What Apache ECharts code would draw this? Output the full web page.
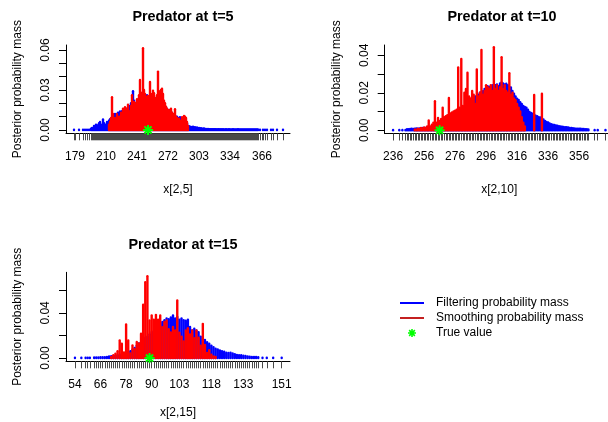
<!DOCTYPE html>
<html>
<head>
<meta charset="utf-8">
<script src="https://cdn.jsdelivr.net/npm/echarts@6/dist/echarts.min.js"></script>
<style>
  html, body { margin: 0; padding: 0; background: #ffffff; }
  #chart { width: 608px; height: 422px; }
</style>
</head>
<body>
<div id="chart"></div>
<script>
// Posterior probability mass of the predator count x[2,t] at t = 5, 10, 15:
// filtering mass (blue sticks), smoothing mass (red sticks) and the true value.

function run(a, b) { const out = []; for (let v = a; v <= b; v++) out.push(v); return out; }

// ---- t = 5 ----
const p1FiltX = [178, 183, 187, 189, 191, 193].concat(run(195, 362), [364, 367, 369, 371, 375, 377, 381, 387]);
const p1Filt = [
  .0002, .0002, .0002, .0002, .0002, .0002,
  .001, .0015, .001, .003, .002, .004, .0035, .002, .005, .006,
  .003, .004, .0078, .005, .003, .004, .006, .0045, .007, .008,
  .006, .009, .011, .010, .012, .010, .011, .013, .009, .0138,
  .012, .014, .010, .013, .015, .012, .016, .014, .018, .015,
  .020, .017, .029, .022, .020, .018, .022, .021, .024, .019,
  .023, .025, .022, .027, .024, .021, .026, .023, .025, .022,
  .024, .020, .023, .025, .021, .019, .022, .020, .018, .021,
  .017, .019, .016, .018, .015, .017, .014, .013, .015, .012,
  .014, .011, .012, .010, .011, .009, .010, .008, .009, .0095,
  .008, .0085, .009, .007, .0085, .006, .005, .003, .0028, .0025,
  .0022, .002, .0024, .0018, .002, .0016, .0018, .0014, .0015, .0012,
  .0013, .001, .0009, .0011, .0008, .0007, .0006, .0007, .0006, .0005,
  .0006, .0005, .0005, .0006, .0005, .0005, .0004, .0005, .0005, .0004,
  .0005, .0004, .0005, .0004, .0004, .0005, .0004, .0004, .0005, .0004,
  .0004, .0004, .0005, .0004, .0004, .0004, .0004, .0005, .0004, .0004,
  .0004, .0004, .0004, .0003, .0004, .0004, .0004, .0003, .0004, .0004,
  .0003, .0004, .0003, .0004, .0003, .0003, .0004, .0003,
  .0002, .0002, .0002, .0002, .0002, .0002, .0002, .0002
];
const p1SmoothX = run(213, 292);
const p1Smooth = [
  .004, .006, .009, .0245, .012, .006, .009, .007, .012, .008,
  .010, .009, .013, .011, .016, .012, .017, .010, .016, .019,
  .014, .012, .018, .026, .016, .021, .020, .018, .023, .019,
  .026, .0375, .022, .028, .0613, .030, .027, .025, .024, .0255,
  .022, .036, .027, .025, .0295, .0275, .021, .024, .026, .0438,
  .025, .029, .030, .031, .027, .022, .020, .0175, .016, .014,
  .015, .013, .016, .013, .011, .012, .0155, .010, .009, .008,
  .0085, .006, .007, .0095, .009, .0105, .010, .009, .006, .003
];
const p1True = 252;
const p1Labels = [179, 210, 241, 272, 303, 334, 366];

// ---- t = 10 ----
const p2FiltX = [236, 240, 242, 244].concat(run(245, 362), [366, 368, 373]);
const p2Filt = [
  .0002, .0002, .0002, .0002,
  .0006, .0006, .0007, .0008, .0007, .0009, .001, .0009, .001, .0011,
  .0012, .0013, .0012, .0016, .0018, .0017, .0022, .0025, .0024, .0032,
  .0036, .0035, .0045, .005, .0056, .0055, .0064, .0068, .0066, .0075,
  .008, .0078, .009, .0095, .0105, .011, .0112, .0125, .013, .0138,
  .0145, .0152, .0165, .0168, .018, .0182, .019, .020, .0205, .0208,
  .022, .0225, .0235, .023, .0235, .024, .0225, .024, .0245, .0235,
  .025, .0255, .025, .0245, .0248, .024, .023, .0228, .021, .0195,
  .018, .0168, .0162, .015, .014, .013, .0125, .012, .011, .0098,
  .0092, .0088, .0085, .0078, .0075, .007, .0068, .0066, .0058, .005,
  .0045, .0042, .0036, .0033, .003, .0029, .0026, .0024, .0022, .0021,
  .0019, .0018, .0017, .0016, .0015, .0013, .0012, .0011, .001, .0009,
  .0009, .0008, .0008, .0007, .0007, .0006, .0006, .0005,
  .0002, .0002, .0002
];
const p2SmoothX = run(250, 321).concat([327, 332]);
const p2Smooth = [
  .0005, .0003, .0008, .0006, .0012, .001, .0015, .0012, .002, .0052,
  .002, .003, .004, .0155, .004, .0066, .005, .006, .012, .007,
  .0075, .008, .0172, .009, .0095, .010, .0105, .011, .0335, .012,
  .038, .013, .020, .022, .0307, .018, .017, .021, .019, .014,
  .0325, .018, .020, .0428, .019, .021, .024, .023, .022, .024,
  .021, .0443, .022, .024, .021, .023, .039, .022, .024, .021,
  .020, .0304, .019, .020, .017, .016, .014, .012, .010, .007,
  .004, .002,
  .0188, .0195
];
const p2True = 266;
const p2Labels = [236, 256, 276, 296, 316, 336, 356];

// ---- t = 15 ----
const p3FiltX = [54, 57, 59, 60, 61].concat(run(63, 140), [142, 144, 147, 151]);
const p3Filt = [
  .0002, .0002, .0002, .0002, .0002,
  .0005, .0006, .0006, .0007, .0008, .0008, .001, .0014, .0016, .0018,
  .002, .0025, .003, .0035, .004, .0045, .0053, .006, .0075, .009,
  .011, .013, .014, .016, .018, .019, .021, .023, .024, .026,
  .028, .030, .032, .0335, .035, .0345, .036, .0377, .035, .0365,
  .034, .035, .0335, .033, .034, .0275, .0245, .026, .0245, .023,
  .019, .0157, .016, .014, .0127, .011, .0097, .0083, .0075, .0068,
  .006, .0055, .0047, .0045, .0047, .004, .0033, .0028, .0025, .0024,
  .002, .0018, .0015, .0012, .001, .001, .0009, .0008,
  .0003, .0002, .0002, .0002
];
const p3SmoothX = run(71, 120);
const p3Smooth = [
  .001, .0024, .0038, .006, .0156, .0127, .005, .0298, .0156, .004,
  .0112, .008, .0142, .013, .0215, .0472, .0672, .0726, .0333, .0378,
  .034, .0383, .034, .0378, .0274, .032, .0333, .0255, .0227, .0275,
  .0245, .051, .0225, .019, .0147, .0245, .0265, .021, .0245, .0175,
  .0245, .018, .011, .0303, .0115, .0045, .007, .003, .0015, .001
];
const p3True = 89;
const p3Labels = [54, 66, 78, 90, 103, 118, 133, 151];

const titles = ['Predator at t=5', 'Predator at t=10', 'Predator at t=15'];
const xNames = ['x[2,5]', 'x[2,10]', 'x[2,15]'];
const yTicks = [[0, .01, .02, .03, .04, .05, .06], [0, .01, .02, .03, .04], [0, .02, .04, .06]];
const yLabels = [[0, .03, .06], [0, .02, .04], [0, .04]];

const FONT = 'Liberation Sans, Arial, sans-serif';
const BLUE = '#0000ff', RED = '#ff0000', GREEN = '#00ff00';
const LW = 2.4;

// panel layout (pixels) and axis ranges
const panels = [
  { left: 66, top: 45, width: 224, height: 88.3, xMin: 170, xMax: 394, yMin: -0.0025, yMax: 0.06375, tx: 178, ty: 5, xGap: 50 },
  { left: 384.7, top: 45, width: 229, height: 88.5, xMin: 230.6, xMax: 378.3, yMin: -0.0017, yMax: 0.0455, tx: 497, ty: 5, xGap: 50 },
  { left: 66, top: 272.3, width: 224, height: 89, xMin: 49.8, xMax: 154.9, yMin: -0.0029, yMax: 0.076, tx: 178, ty: 233, xGap: 45 }
];
const data = [
  { fx: p1FiltX, fy: p1Filt, sx: p1SmoothX, sy: p1Smooth, t: p1True, lab: p1Labels },
  { fx: p2FiltX, fy: p2Filt, sx: p2SmoothX, sy: p2Smooth, t: p2True, lab: p2Labels },
  { fx: p3FiltX, fy: p3Filt, sx: p3SmoothX, sy: p3Smooth, t: p3True, lab: p3Labels }
];

// asterisk marker built from four thin bars
const STAR = 'path://M-0.2,-1L0.2,-1L0.2,1L-0.2,1Z' +
  'M-1,-0.2L1,-0.2L1,0.2L-1,0.2Z' +
  'M-0.57,-0.85L0.85,0.57L0.57,0.85L-0.85,-0.57Z' +
  'M0.85,-0.57L-0.57,0.85L-0.85,0.57L0.57,-0.85Z';
const LINE_ICON = 'path://M0,0L24,0L24,2L0,2Z';

function stick(color) {
  return function (params, api) {
    const x = api.value(0), y = api.value(1);
    const a = api.coord([x, 0]), b = api.coord([x, y]);
    return {
      type: 'line',
      shape: { x1: a[0], y1: a[1], x2: b[0], y2: b[1] },
      style: { stroke: color, lineWidth: LW, lineCap: 'round' },
      silent: true
    };
  };
}

const grids = [], xAxes = [], yAxes = [], series = [], title = [];
panels.forEach(function (p, i) {
  const d = data[i];
  grids.push({ left: p.left, top: p.top, width: p.width, height: p.height, outerBoundsMode: 'none', containLabel: false });
  title.push({
    text: titles[i], left: p.tx, top: p.ty, textAlign: 'center',
    textStyle: { fontFamily: FONT, fontSize: 14.4, fontWeight: 'bold', color: '#000' }
  });
  const tickVals = Array.from(new Set(d.fx.concat(d.lab))).sort(function (a, b) { return a - b; });
  xAxes.push({
    gridIndex: i, type: 'value', min: p.xMin, max: p.xMax, position: 'bottom',
    axisLine: { show: true, onZero: false, lineStyle: { color: '#000', width: 1 } },
    axisTick: { show: true, customValues: tickVals, length: 7, lineStyle: { color: '#4a4a4a', width: 1 } },
    axisLabel: { show: true, customValues: d.lab, margin: 17, fontFamily: FONT, fontSize: 12, color: '#000', hideOverlap: false },
    splitLine: { show: false },
    name: xNames[i], nameLocation: 'middle', nameGap: p.xGap, nameMoveOverlap: false,
    nameTextStyle: { fontFamily: FONT, fontSize: 12, color: '#000' }
  });
  yAxes.push({
    gridIndex: i, type: 'value', min: p.yMin, max: p.yMax,
    axisLine: { show: true, onZero: false, lineStyle: { color: '#000', width: 1 } },
    axisTick: { show: true, customValues: yTicks[i], length: 7, lineStyle: { color: '#000', width: 1 } },
    axisLabel: {
      show: true, customValues: yLabels[i], rotate: 90, margin: 14,
      formatter: function (v) { return v.toFixed(2); },
      fontFamily: FONT, fontSize: 12, color: '#000', hideOverlap: false
    },
    splitLine: { show: false },
    name: 'Posterior probability mass', nameLocation: 'middle', nameRotate: 90, nameGap: 42, nameMoveOverlap: false,
    nameTextStyle: { fontFamily: FONT, fontSize: 12, color: '#000' }
  });
  series.push({
    type: 'custom', name: 'Filtering probability mass', xAxisIndex: i, yAxisIndex: i,
    data: d.fx.map(function (x, k) { return [x, d.fy[k]]; }),
    encode: { x: 0, y: 1 }, renderItem: stick(BLUE), itemStyle: { color: BLUE }, clip: false, z: 2
  });
  series.push({
    type: 'custom', name: 'Smoothing probability mass', xAxisIndex: i, yAxisIndex: i,
    data: d.sx.map(function (x, k) { return [x, d.sy[k]]; }),
    encode: { x: 0, y: 1 }, renderItem: stick(RED), itemStyle: { color: RED }, clip: false, z: 3
  });
  series.push({
    type: 'scatter', name: 'True value', xAxisIndex: i, yAxisIndex: i,
    data: [[d.t, 0]], symbol: STAR, symbolSize: 10,
    itemStyle: { color: GREEN, opacity: 1 }, z: 4, silent: true
  });
});

const chart = echarts.init(document.getElementById('chart'), null, { renderer: 'canvas' });
chart.setOption({
  backgroundColor: '#ffffff',
  animation: false,
  title: title,
  grid: grids,
  xAxis: xAxes,
  yAxis: yAxes,
  series: series,
  legend: {
    orient: 'vertical', left: 400, top: 295.5, padding: 0, itemWidth: 24, itemHeight: 8, itemGap: 0,
    selectedMode: false,
    textStyle: { fontFamily: FONT, fontSize: 12, color: '#000', lineHeight: 15, padding: [0, 0, 0, 7] },
    data: [
      { name: 'Filtering probability mass', icon: LINE_ICON, itemStyle: { color: BLUE } },
      { name: 'Smoothing probability mass', icon: LINE_ICON, itemStyle: { color: '#c42020' } },
      { name: 'True value', icon: STAR, itemStyle: { color: GREEN } }
    ]
  }
});
</script>
</body>
</html>
